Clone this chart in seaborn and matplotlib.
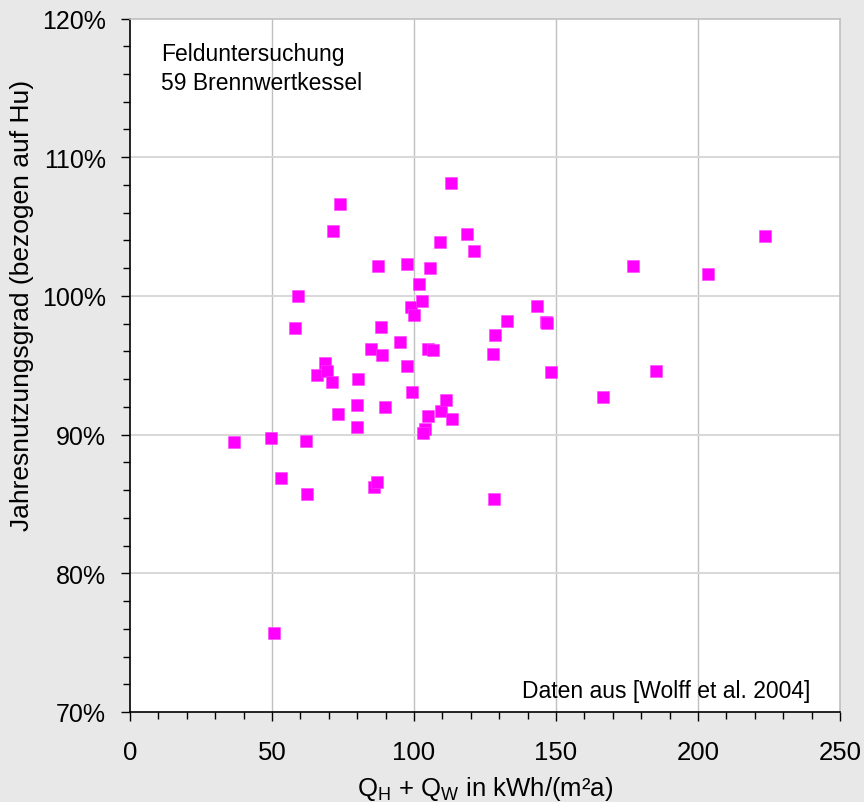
import matplotlib
matplotlib.use("Agg")
import matplotlib.pyplot as plt
from matplotlib.ticker import MultipleLocator, FuncFormatter
import pandas as pd
import seaborn as sns

# Energy demand for heating + hot water, kWh/(m²a)
verbrauch = [36.6, 49.5, 53.0, 61.8, 62.4, 50.7, 59.0, 58.1, 65.8, 68.5,
             69.3, 71.0, 73.2, 71.6, 73.8, 80.2, 80.0, 80.1, 84.7, 85.9,
             86.9, 87.3, 88.6, 88.3, 89.9, 95.1, 97.4, 97.7, 98.9, 99.2,
             100.1, 101.7, 102.9, 103.7, 103.3, 104.9, 105.1, 105.6, 106.6, 109.1,
             109.4, 111.2, 113.5, 112.9, 118.7, 121.0, 127.7, 128.5, 128.3, 132.9,
             143.2, 146.6, 146.8, 148.1, 166.7, 177.2, 185.3, 203.6, 223.7]

# Annual utilisation efficiency (related to net calorific value), %
nutzungsgrad = [89.46, 89.75, 86.89, 89.53, 85.72, 75.67, 100.0, 97.71, 94.33, 95.19,
                94.59, 93.78, 91.47, 104.66, 106.63, 93.99, 92.17, 90.54, 96.20, 86.22,
                86.56, 102.12, 95.72, 97.73, 92.0, 96.71, 102.27, 94.95, 99.22, 93.06,
                98.60, 100.88, 99.60, 90.40, 90.11, 96.17, 91.32, 102.03, 96.08, 103.87,
                91.69, 92.50, 91.14, 108.14, 104.47, 103.22, 95.79, 97.21, 85.36, 98.17,
                99.24, 98.11, 98.02, 94.52, 92.68, 102.17, 94.55, 101.57, 104.33]

x_ticks = [0, 50, 100, 150, 200, 250]
y_ticks = [70, 80, 90, 100, 110, 120]

df = pd.DataFrame({"q": verbrauch, "eta": nutzungsgrad})

sns.set_theme(style="white")
plt.rcParams["font.family"] = ["Liberation Sans", "DejaVu Sans"]
plt.rcParams["mathtext.fontset"] = "custom"
plt.rcParams["mathtext.rm"] = "Liberation Sans"
plt.rcParams["mathtext.it"] = "Liberation Sans:italic"

W, H = 864, 803
bg = "#e8e8e8"
fig = plt.figure(figsize=(W / 100, H / 100), dpi=100, facecolor=bg)
ax = fig.add_axes([130 / W, 1 - 713 / H, 710 / W, 693.5 / H])
ax.set_facecolor("white")

sns.scatterplot(data=df, x="q", y="eta", ax=ax, marker="s", s=66,
                color="#ff00ff", edgecolor="#ff40ff", linewidth=0.4, zorder=3,
                legend=False)

ax.set_xlim(x_ticks[0], x_ticks[-1])
ax.set_ylim(y_ticks[0], y_ticks[-1])
ax.set_xticks(x_ticks)
ax.set_yticks(y_ticks)
ax.xaxis.set_minor_locator(MultipleLocator(10))
ax.yaxis.set_minor_locator(MultipleLocator(2))
ax.yaxis.set_major_formatter(FuncFormatter(lambda v, p: f"{v:.0f}%"))

# grid: vertical lines a bit darker than horizontal ones
for xv in x_ticks[1:-1]:
    ax.axvline(xv, color="#c0c0c0", lw=1.0, zorder=1)
for yv in y_ticks[1:-1]:
    ax.axhline(yv, color="#d8d8d8", lw=1.4, zorder=1)

for side in ("left", "bottom"):
    ax.spines[side].set_color("black")
    ax.spines[side].set_linewidth(1.2)
for side in ("top", "right"):
    ax.spines[side].set_color("#c0c0c0")
    ax.spines[side].set_linewidth(1.2)

ax.tick_params(axis="both", which="both", direction="out", color="black",
               width=1.0, labelcolor="black")
ax.tick_params(axis="both", which="major", length=6.5)
ax.tick_params(axis="both", which="minor", length=5)
ax.tick_params(axis="y", which="major", labelsize=18, pad=11)
ax.tick_params(axis="x", which="major", labelsize=18.5, pad=14)
ax.tick_params(left=True, bottom=True, which="both")

ax.set_xlabel(r"Q$_\mathrm{H}$ + Q$_\mathrm{W}$ in kWh/(m²a)", fontsize=18.5,
              color="black", labelpad=7)
ax.set_ylabel("Jahresnutzungsgrad (bezogen auf Hu)", fontsize=19,
              color="black")
ax.yaxis.label.set_va("center")
ax.yaxis.set_label_coords((22 - 130) / 710, (713 - 305) / 693.5)

ax.text(161 / W, 1 - 60.7 / H, "Felduntersuchung",
        transform=fig.transFigure, fontsize=16.5, va="baseline", ha="left",
        color="black")
ax.text(161 / W, 1 - 90 / H, "59 Brennwertkessel",
        transform=fig.transFigure, fontsize=16.5, va="baseline", ha="left",
        color="black")
ax.text(810 / W, 1 - 698 / H, "Daten aus [Wolff et al. 2004]",
        transform=fig.transFigure, fontsize=16.5, va="baseline", ha="right",
        color="black")

fig.savefig("out.png", dpi=100, facecolor=bg)
